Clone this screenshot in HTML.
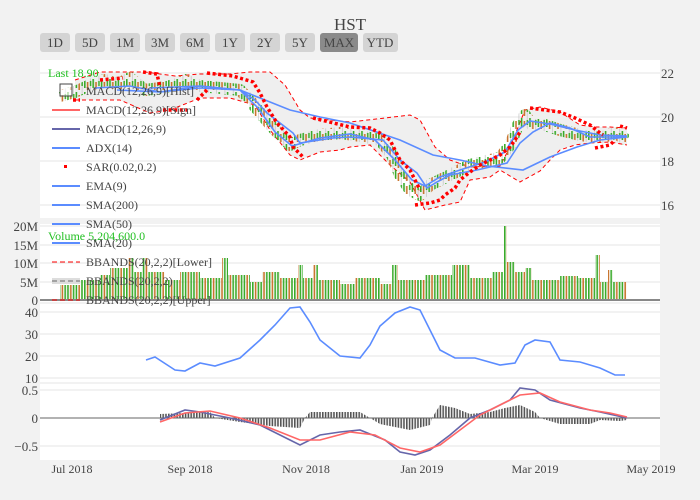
<!DOCTYPE html>
<html><head><meta charset="utf-8">
<style>
body{margin:0;background:#f2f2f2;}
svg{display:block;font-family:"Liberation Serif",serif;}
</style></head><body>
<svg width="700" height="500" xmlns="http://www.w3.org/2000/svg">
<defs>
<pattern id="cs" patternUnits="userSpaceOnUse" width="8.4" height="13">
<rect x="0" y="1" width="1.6" height="9" fill="#3aaa2a"/><rect x="2.8" y="4" width="1.6" height="8" fill="#c8742e"/><rect x="6.2" y="0" width="0.6" height="13" fill="#bbb"/><rect x="5.8" y="3" width="1.5" height="5" fill="#3aaa2a"/>
</pattern>
<pattern id="vs" patternUnits="userSpaceOnUse" width="8.4" height="100">
<rect x="0" y="0" width="1.6" height="100" fill="#3aaa2a"/><rect x="2.8" y="4" width="1.6" height="100" fill="#c8742e"/><rect x="5.6" y="9" width="1.6" height="100" fill="#3aaa2a"/>
</pattern>
<pattern id="hs" patternUnits="userSpaceOnUse" width="2.8" height="100">
<rect x="0" y="0" width="1.6" height="100" fill="#555"/>
</pattern>
</defs>
<rect width="700" height="500" fill="#f2f2f2"/>
<rect x="40" y="60" width="620" height="158" fill="#fff"/>
<rect x="40" y="224" width="620" height="78" fill="#fff"/>
<rect x="40" y="304" width="620" height="78" fill="#fff"/>
<rect x="40" y="384" width="620" height="76" fill="#fff"/>
<g stroke="#e6e6e6" stroke-width="1">
<line x1="40" x2="660" y1="73" y2="73"/><line x1="40" x2="660" y1="117" y2="117"/><line x1="40" x2="660" y1="161" y2="161"/><line x1="40" x2="660" y1="205" y2="205"/>
<line x1="40" x2="660" y1="226" y2="226"/><line x1="40" x2="660" y1="245" y2="245"/><line x1="40" x2="660" y1="263" y2="263"/><line x1="40" x2="660" y1="282" y2="282"/>
<line x1="40" x2="660" y1="312" y2="312"/><line x1="40" x2="660" y1="334" y2="334"/><line x1="40" x2="660" y1="356" y2="356"/><line x1="40" x2="660" y1="378" y2="378"/>
<line x1="40" x2="660" y1="390" y2="390"/><line x1="40" x2="660" y1="446" y2="446"/>
</g>
<path d="M75,80 L100,72 L145,72 L175,76 L200,74 L230,74 L250,72 L270,72 L285,85 L300,110 L310,118 L330,120 L350,122 L385,118 L410,115 L420,120 L435,147 L450,160 L470,167 L500,166 L510,147 L525,110 L540,107 L560,112 L580,125 L595,127 L610,127 L627,128 L627,145 L610,142 L590,143 L575,145 L560,150 L550,160 L540,171 L520,182 L500,170 L490,177 L470,180 L460,202 L445,205 L425,210 L410,182 L390,165 L370,145 L350,147 L340,150 L320,152 L300,160 L290,155 L270,130 L255,105 L230,98 L200,98 L170,110 L150,113 L120,100 L75,100 Z" fill="#efefef"/>
<path d="M75,80 L100,72 L145,72 L175,76 L200,74 L230,74 L250,72 L270,72 L285,85 L300,110 L310,118 L330,120 L350,122 L385,118 L410,115 L420,120 L435,147 L450,160 L470,167 L500,166 L510,147 L525,110 L540,107 L560,112 L580,125 L595,127 L610,127 L627,128" fill="none" stroke="red" stroke-dasharray="4,3"/>
<path d="M75,100 L120,100 L150,113 L170,110 L200,98 L230,98 L255,105 L270,130 L290,155 L300,160 L320,152 L340,150 L350,147 L370,145 L390,165 L410,182 L425,210 L445,205 L460,202 L470,180 L490,177 L500,170 L520,182 L540,171 L550,160 L560,150 L575,145 L590,143 L610,142 L627,145" fill="none" stroke="red" stroke-dasharray="4,3"/>
<!-- candles -->
<path d="M60,96 L75,92 L90,85 L105,80 L118,84 L130,78 L145,90 L160,88 L175,85 L185,80 L200,86 L220,88 L240,90 L252,103 L262,115 L275,130 L290,145 L300,140 L320,135 L340,133 L360,136 L380,140 L392,155 L400,175 L410,190 L420,195 L430,185 L450,175 L470,165 L490,160 L500,158 L510,145 L518,125 L525,115 L532,125 L545,125 L560,130 L580,135 L600,138 L615,133 L627,140" fill="none" stroke="url(#cs)" stroke-width="12" stroke-linejoin="round"/>
<g fill="none" stroke="#5b8cff" stroke-width="1.6">
<path d="M150,88 L200,86 L240,90 L265,100 L290,110 L320,117 L350,123 L400,140 L433,155 L460,160 L487,166 L523,170 L550,157 L577,147 L600,140 L627,137"/>
<path d="M117,90 L160,92 L200,88 L240,90 L255,100 L267,113 L293,133 L300,143 L333,138 L350,137 L383,140 L400,160 L417,173 L427,188 L437,182 L450,175 L477,170 L507,163 L520,143 L533,132 L550,123 L570,128 L590,137 L626,137"/>
<path d="M95,88 L130,86 L160,92 L200,86 L240,90 L258,108 L275,132 L292,146 L320,138 L350,134 L375,140 L395,160 L412,180 L425,186 L440,177 L460,170 L485,162 L505,152 L518,130 L530,121 L550,124 L575,130 L600,135 L627,136"/>
</g>
<g fill="none" stroke="red" stroke-width="3.5" stroke-dasharray="3,2.6">
<path d="M73,100 L80,100"/>
<path d="M100,80 L123,78"/>
<path d="M143,72 L157,74 L160,87"/>
<path d="M163,110 L187,110"/>
<path d="M197,100 L207,90"/>
<path d="M207,73 L233,76 L253,82 L260,93 L267,107 L277,123 L290,137 L293,147 L303,157"/>
<path d="M313,118 L350,127 L370,128 L380,133 L390,140 L395,150 L400,160 L410,170 L415,180 L420,190"/>
<path d="M415,205 L430,203 L440,200 L445,195 L455,188 L460,180 L470,172 L480,165 L490,160 L500,155 L510,147 L515,140 L520,132"/>
<path d="M530,108 L560,112 L575,118 L590,125 L600,133 L603,135"/>
<path d="M595,148 L610,145 L615,140"/>
<path d="M620,126 L627,128"/>
</g>
<path d="M60,300 L60,285 L80,285 L80,280 L100,280 L100,275 L110,275 L110,268 L128,268 L128,258 L134,258 L134,272 L142,272 L142,258 L148,258 L148,272 L165,272 L165,280 L180,280 L180,272 L200,272 L200,278 L222,278 L222,258 L228,258 L228,275 L250,275 L250,282 L262,282 L262,272 L280,272 L280,278 L298,278 L298,265 L303,265 L303,278 L313,278 L313,265 L318,265 L318,280 L340,280 L340,284 L355,284 L355,278 L380,278 L380,284 L392,284 L392,265 L398,265 L398,280 L425,280 L425,275 L452,275 L452,265 L470,265 L470,278 L492,278 L492,272 L503,272 L503,226 L507,226 L507,262 L515,262 L515,272 L525,272 L525,268 L532,268 L532,280 L560,280 L560,276 L578,276 L578,278 L595,278 L595,255 L600,255 L600,282 L608,282 L608,270 L613,270 L613,282 L627,282 L627,300 Z" fill="url(#vs)"/>
<line x1="40" x2="660" y1="300" y2="300" stroke="#888" stroke-width="2"/>
<path d="M146,360 L155,357 L175,370 L185,371 L200,363 L215,366 L240,358 L260,340 L275,325 L290,308 L300,307 L310,322 L320,340 L340,356 L360,358 L370,345 L380,326 L395,313 L410,307 L420,310 L430,330 L440,350 L455,358 L475,358 L500,365 L515,363 L525,345 L535,340 L550,342 L560,360 L580,362 L600,368 L615,375 L625,375" fill="none" stroke="#5b8cff" stroke-width="1.6"/>
<path d="M160,418 L160,414 L210,412 L215,418 L240,422 L270,426 L300,428 L305,418 L310,412 L360,412 L370,418 L380,424 L410,430 L430,425 L432,418 L440,405 L455,408 L470,414 L490,412 L505,408 L520,405 L535,412 L540,418 L560,424 L590,424 L600,420 L620,421 L627,420 L627,418 Z" fill="url(#hs)"/>
<line x1="40" x2="660" y1="418" y2="418" stroke="#666" stroke-width="1"/>
<path d="M160,420 L185,410 L200,412 L230,418 L260,425 L290,440 L300,445 L320,435 L340,432 L360,430 L385,440 L400,452 L415,455 L430,450 L450,435 L470,418 L490,410 L510,400 L520,388 L535,390 L550,400 L580,408 L600,412 L627,418" fill="none" stroke="#66a" stroke-width="1.6"/>
<path d="M160,422 L185,413 L210,411 L240,418 L270,428 L300,440 L320,440 L350,432 L375,435 L400,448 L420,452 L440,445 L460,430 L480,415 L500,405 L520,395 L540,393 L560,402 L590,410 L610,413 L627,417" fill="none" stroke="#f66" stroke-width="1.6"/>

<text x="350" y="30" font-size="17" text-anchor="middle" fill="#444">HST</text>
<g font-size="13" fill="#444" text-anchor="middle">
<rect x="40" y="33" width="30" height="19" rx="3" fill="#d4d4d4"/><text x="55" y="47">1D</text>
<rect x="75" y="33" width="30" height="19" rx="3" fill="#d4d4d4"/><text x="90" y="47">5D</text>
<rect x="110" y="33" width="30" height="19" rx="3" fill="#d4d4d4"/><text x="125" y="47">1M</text>
<rect x="145" y="33" width="30" height="19" rx="3" fill="#d4d4d4"/><text x="160" y="47">3M</text>
<rect x="180" y="33" width="30" height="19" rx="3" fill="#d4d4d4"/><text x="195" y="47">6M</text>
<rect x="215" y="33" width="30" height="19" rx="3" fill="#d4d4d4"/><text x="230" y="47">1Y</text>
<rect x="250" y="33" width="30" height="19" rx="3" fill="#d4d4d4"/><text x="265" y="47">2Y</text>
<rect x="285" y="33" width="30" height="19" rx="3" fill="#d4d4d4"/><text x="300" y="47">5Y</text>
<rect x="320" y="33" width="38" height="19" rx="3" fill="#8a8a8a"/><text x="339" y="47">MAX</text>
<rect x="363" y="33" width="35" height="19" rx="3" fill="#d4d4d4"/><text x="380" y="47">YTD</text>
</g>
<g font-size="13" fill="#444">
<text x="661" y="78">22</text><text x="661" y="122">20</text><text x="661" y="166">18</text><text x="661" y="210">16</text>
</g>
<g font-size="13" fill="#444" text-anchor="end">
<text x="38" y="231">20M</text><text x="38" y="250">15M</text><text x="38" y="268">10M</text><text x="38" y="287">5M</text><text x="38" y="305">0</text>
<text x="38" y="317">40</text><text x="38" y="339">30</text><text x="38" y="361">20</text><text x="38" y="383">10</text>
<text x="38" y="395">0.5</text><text x="38" y="423">0</text><text x="38" y="451">−0.5</text>
</g>
<g font-size="12" fill="#444" text-anchor="middle">
<text x="72" y="473">Jul 2018</text><text x="190" y="473">Sep 2018</text><text x="306" y="473">Nov 2018</text><text x="422" y="473">Jan 2019</text><text x="535" y="473">Mar 2019</text><text x="651" y="473">May 2019</text>
</g>
<text x="48" y="77" font-size="12" fill="#22c022">Last 18.90</text>
<text x="48" y="240" font-size="12" fill="#22c022">Volume 5,204,600.0</text>
<g font-size="12" fill="#444">
<rect x="60" y="84" width="12" height="12" fill="#fff" fill-opacity="0.6" stroke="#444"/>
<text x="86" y="95">MACD(12,26,9)[Hist]</text>
<line x1="52" x2="80" y1="110" y2="110" stroke="#f66" stroke-width="2"/><text x="86" y="114">MACD(12,26,9)[Sign]</text>
<line x1="52" x2="80" y1="129" y2="129" stroke="#66a" stroke-width="2"/><text x="86" y="133">MACD(12,26,9)</text>
<line x1="52" x2="80" y1="148" y2="148" stroke="#5b8cff" stroke-width="2"/><text x="86" y="152">ADX(14)</text>
<rect x="64" y="165" width="3" height="3" fill="red"/><text x="86" y="171">SAR(0.02,0.2)</text>
<line x1="52" x2="80" y1="186" y2="186" stroke="#5b8cff" stroke-width="2"/><text x="86" y="190">EMA(9)</text>
<line x1="52" x2="80" y1="205" y2="205" stroke="#5b8cff" stroke-width="2"/><text x="86" y="209">SMA(200)</text>
<line x1="52" x2="80" y1="224" y2="224" stroke="#5b8cff" stroke-width="2"/><text x="86" y="228">SMA(50)</text>
<line x1="52" x2="80" y1="243" y2="243" stroke="#5b8cff" stroke-width="2"/><text x="86" y="247">SMA(20)</text>
<line x1="52" x2="80" y1="262" y2="262" stroke="red" stroke-dasharray="5,3"/><text x="86" y="266">BBANDS(20,2,2)[Lower]</text>
<line x1="52" x2="80" y1="281" y2="281" stroke="#ddd" stroke-width="6"/><line x1="52" x2="80" y1="281" y2="281" stroke="#666" stroke-dasharray="5,3"/><text x="86" y="285">BBANDS(20,2,2)</text>
<line x1="52" x2="80" y1="300" y2="300" stroke="red" stroke-dasharray="5,3"/><text x="86" y="304">BBANDS(20,2,2)[Upper]</text>
</g>
</svg>
</body></html>
